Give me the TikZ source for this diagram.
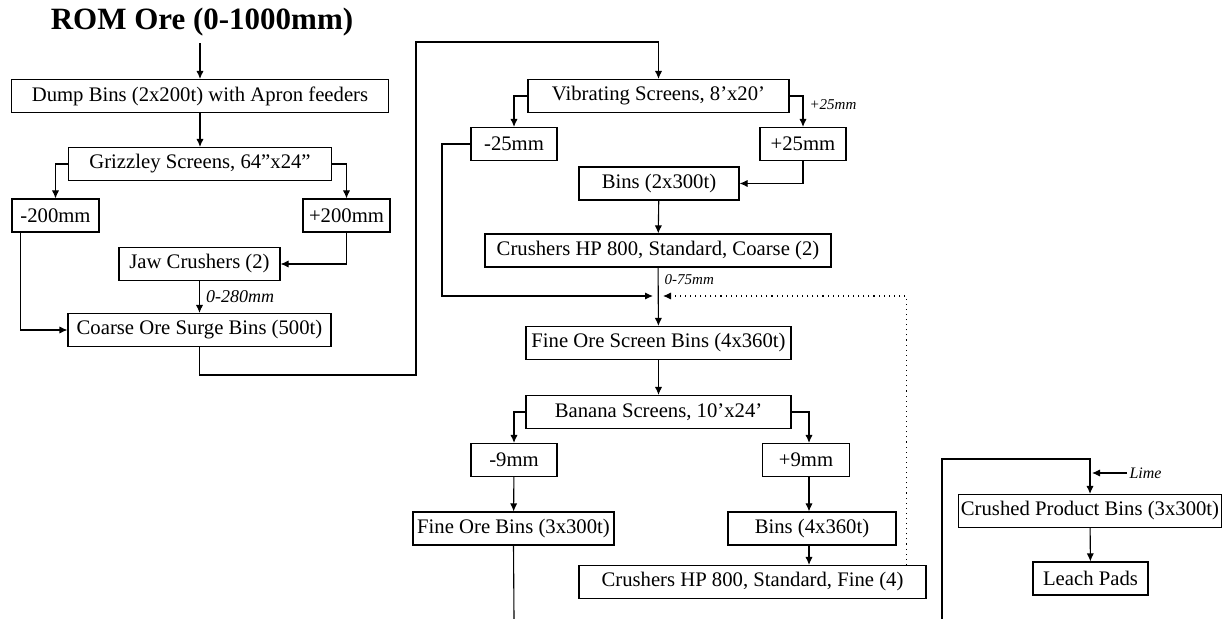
\documentclass[tikz,border=0pt]{standalone}
\usepackage{fontspec}
\setmainfont{Liberation Serif}
\usetikzlibrary{arrows.meta}

\begin{document}
\begin{tikzpicture}[x=0.5pt,y=-0.5pt,line width=0.55pt,
				>={Latex[length=4pt,width=3.6pt]},
				unit/.style={draw,rectangle,minimum height=16.5pt,inner sep=1pt,font=\fontsize{10.35}{12}\selectfont},
				size/.style={inner sep=1pt,font=\fontsize{7.5}{9}\selectfont\itshape}]
				\useasboundingbox (0,0) rectangle (1225,619);
				% primary crushing
				\node[font=\fontsize{15.5}{18}\selectfont\bfseries] (rom) at (202,22) {ROM Ore (0-1000mm)};
				\node[unit,minimum width=188.5pt] (dump) at (200,96) {Dump Bins (2x200t) with Apron feeders};
				\node[unit,minimum width=131.5pt] (grizzley) at (200,164) {Grizzley Screens, 64''x24''};
				\node[unit,minimum width=43.5pt] (minus200) at (55.5,215.5) {-200mm};
				\node[unit,minimum width=43.5pt] (plus200) at (346.5,215.5) {+200mm};
				\node[unit,minimum width=80.5pt] (jaw) at (199.5,264) {Jaw Crushers (2)};
				\node[unit,minimum width=131.5pt] (coarse) at (199.5,330) {Coarse Ore Surge Bins (500t)};
				% secondary crushing
				\node[unit,minimum width=130.5pt] (vibrating) at (658.5,96) {Vibrating Screens, 8'x20'};
				\node[unit,minimum width=43pt] (minus25) at (514,144) {-25mm};
				\node[unit,minimum width=43pt] (plus25) at (803,144) {+25mm};
				\node[unit,minimum width=80pt] (bins2) at (659,183.5) {Bins (2x300t)};
				\node[unit,minimum width=173pt] (coarsecr) at (658,250.5) {Crushers HP 800, Standard, Coarse (2)};
				% tertiary crushing
				\node[unit,minimum width=132.5pt] (screenbins) at (658.5,343) {Fine Ore Screen Bins (4x360t)};
				\node[unit,minimum width=132.5pt] (banana) at (658.5,412) {Banana Screens, 10'x24'};
				\node[unit,minimum width=43pt] (minus9) at (514,460) {-9mm};
				\node[unit,minimum width=43.5pt] (plus9) at (806,460) {+9mm};
				\node[unit,minimum width=100.5pt] (finebins) at (513.5,528.5) {Fine Ore Bins (3x300t)};
				\node[unit,minimum width=84pt] (bins4) at (812,528.5) {Bins (4x360t)};
				\node[unit,minimum width=173.5pt] (finecr) at (752.5,582) {Crushers HP 800, Standard, Fine (4)};
				% product
				\node[unit,minimum width=131pt] (product) at (1090,511) {Crushed Product Bins (3x300t)};
				\node[unit,minimum width=57.5pt] (leach) at (1090.5,578.5) {Leach Pads};
				\coordinate (loopup) at (416,42);
				\coordinate (merge) at (658,296);
				\coordinate (merge2) at (442,296);
				\coordinate (feedout) at (514,619);
				\coordinate (feedin) at (942,619);
				\coordinate (feedtop) at (942,459);
				\coordinate (lime) at (1127,473);

				\draw[->] (rom.south -| dump.north) -- (dump.north);
				\draw[->] (dump) -- (grizzley);
				\draw[->] (grizzley.west) -| (minus200.north);
				\draw[->] (grizzley.east) -| (plus200.north);
				\draw[->] (plus200.south) |- (jaw.east);
				\draw[->] (jaw) -- node[size,right=2pt,font=\fontsize{9}{10}\selectfont\itshape] {0-280mm} (coarse);
				\draw[->] ([xshift=4.5pt]minus200.south west) |- (coarse.west);
				\draw[->] (coarse.south) -- ++(0,28) -| (loopup) -| (vibrating.north);
				\draw[->] (vibrating.west) -| (minus25.north);
				\draw[->] (vibrating.east) -| node[size,right=2pt,pos=.64] {+25mm} (plus25.north);
				\draw[->] (plus25.south) |- (bins2.east);
				\draw[->] (bins2) -- (coarsecr);
				\draw[->] (coarsecr) -- node[size,right=2pt,pos=.2] {0-75mm} (screenbins);
				\draw[->] (minus25.west) -| (merge2) -- ([xshift=-2.5pt]merge);
				\draw[->,dotted] ([xshift=77pt]finecr.north) |- ([xshift=2.5pt]merge);
				\draw[->] (screenbins) -- (banana);
				\draw[->] (banana.west) -| (minus9.north);
				\draw[->] (banana.east) -| ([xshift=1.5pt]plus9.north);
				\draw[->] ([xshift=1.5pt]plus9.south) -- ([xshift=1.5pt]plus9.south |- bins4.north);
				\draw[->] ([xshift=-1.5pt]bins4.south) -- ([xshift=-1.5pt]bins4.south |- finecr.north);
				\draw[->] (minus9) -- (finebins);
				\draw (finebins.south) -- (feedout);
				\draw[->] (feedin) -- (feedtop) -| (product.north);
				\node[size,anchor=west,font=\fontsize{8}{9}\selectfont\itshape] (limetxt) at (lime) {Lime};
				\draw[->] (limetxt.west) -- ([xshift=1pt]limetxt.west -| product.north);
				\draw[->] (product) -- (leach);
			\end{tikzpicture}
\end{document}
